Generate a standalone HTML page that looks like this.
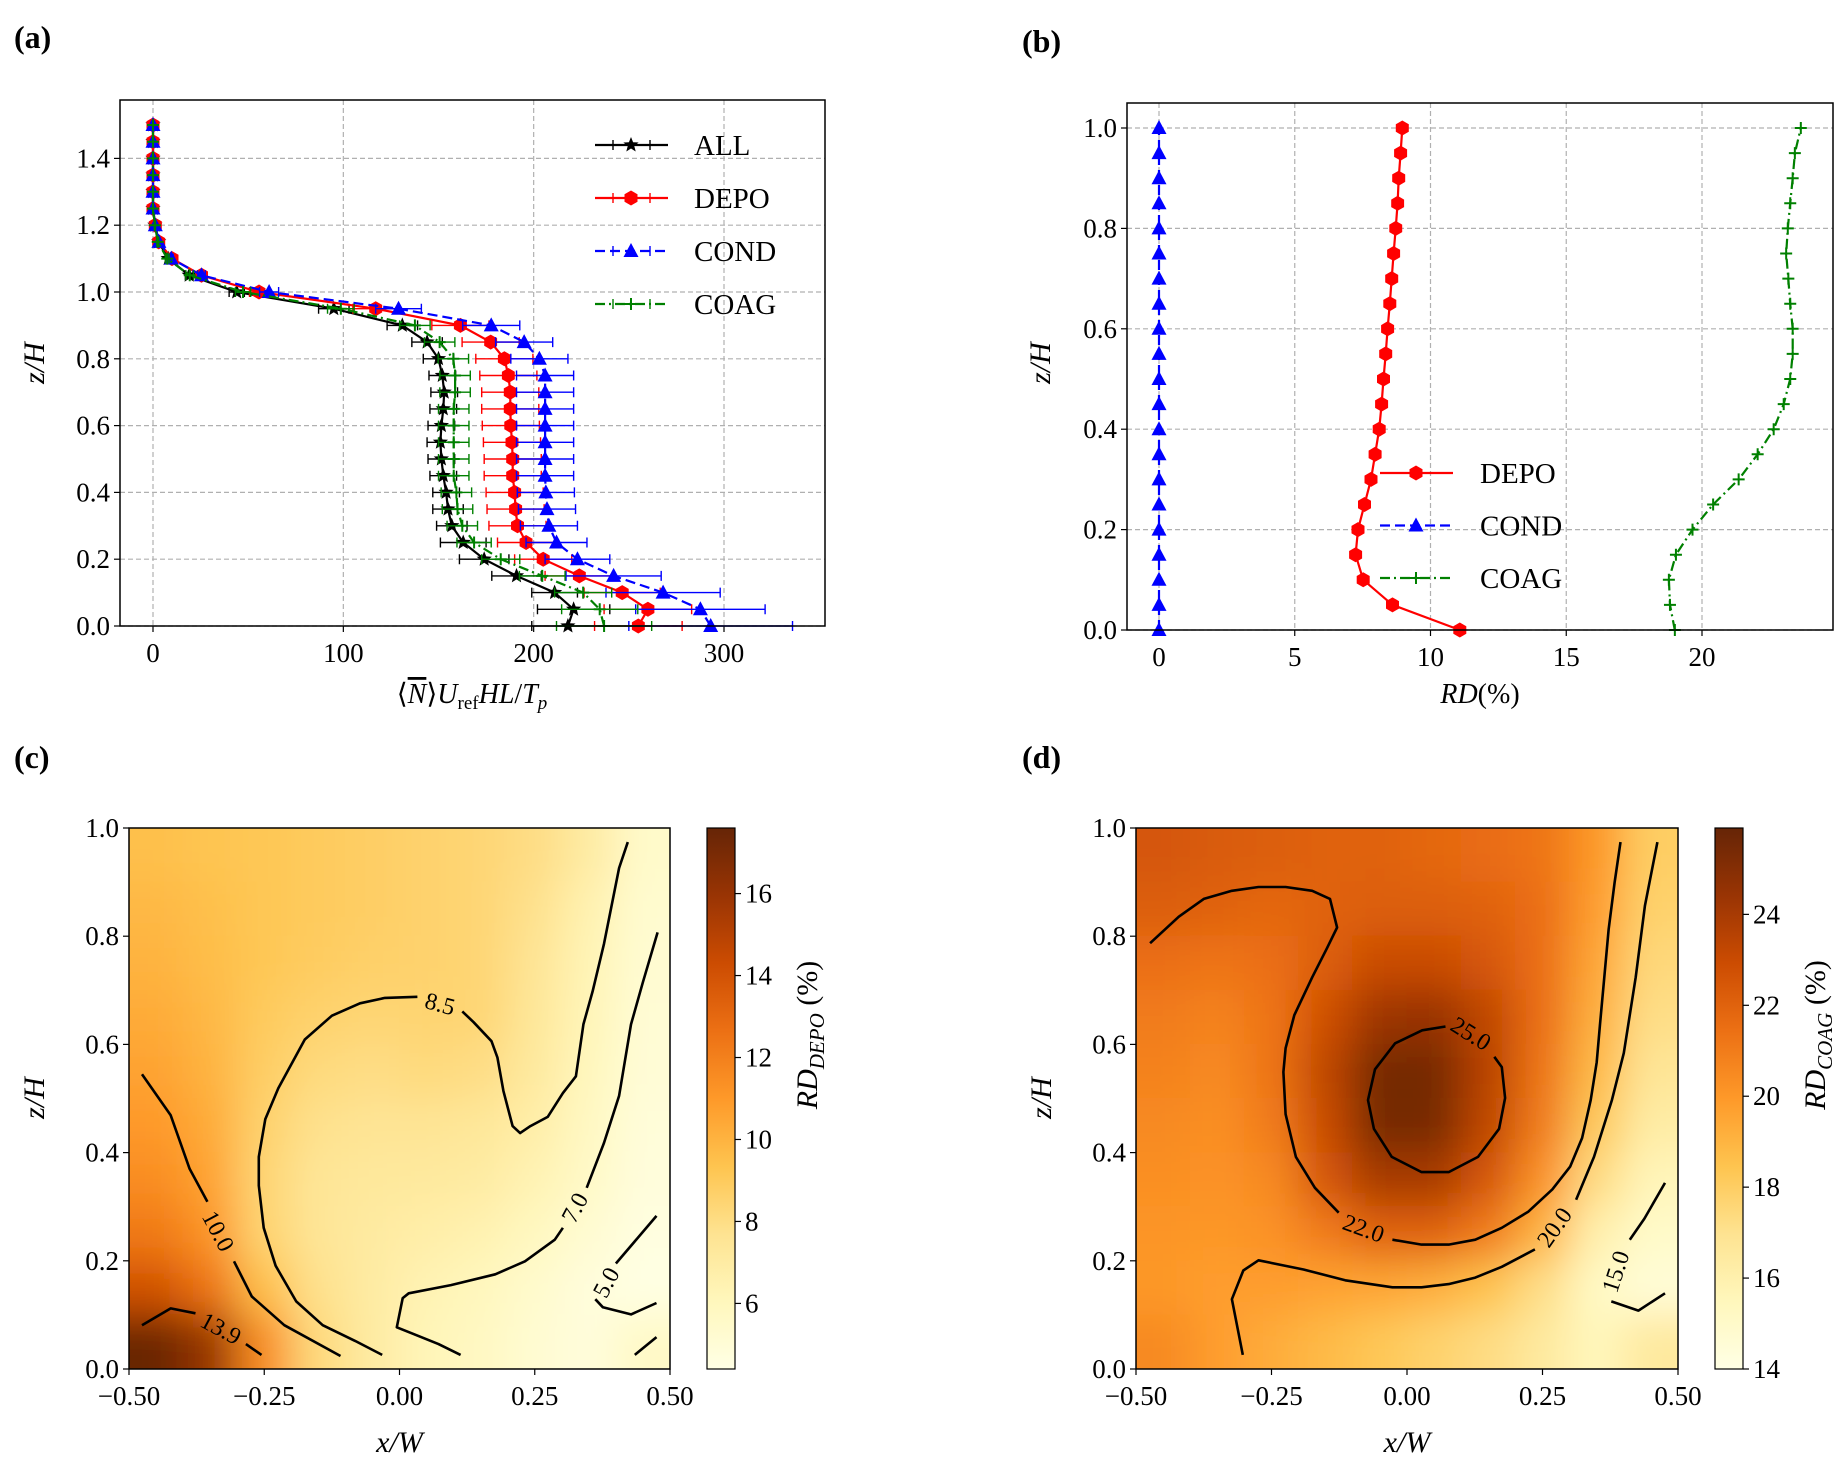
<!DOCTYPE html>
<html><head><meta charset="utf-8"><style>
html,body{margin:0;padding:0;background:#fff;}
svg{display:block;font-family:"Liberation Serif",serif;}
</style></head><body>
<svg id="fig" width="1848" height="1479" viewBox="0 0 1848 1479" xmlns="http://www.w3.org/2000/svg">
<defs>
<filter id="blurC" filterUnits="userSpaceOnUse" x="0" y="700" width="924" height="779"><feGaussianBlur stdDeviation="20"/></filter>
<filter id="blurD" filterUnits="userSpaceOnUse" x="924" y="700" width="924" height="779"><feGaussianBlur stdDeviation="20"/></filter>
<linearGradient id="cmap" x1="0" y1="1" x2="0" y2="0">
<stop offset="0" stop-color="#ffffe5"/><stop offset="0.125" stop-color="#fff7bc"/><stop offset="0.25" stop-color="#fee391"/><stop offset="0.375" stop-color="#fec44f"/><stop offset="0.5" stop-color="#fe9929"/><stop offset="0.625" stop-color="#ec7014"/><stop offset="0.75" stop-color="#cc4c02"/><stop offset="0.875" stop-color="#993404"/><stop offset="1" stop-color="#662506"/>
</linearGradient>
<clipPath id="clipC"><rect x="129" y="828" width="541" height="541"/></clipPath>
<clipPath id="clipD"><rect x="1136" y="828" width="542" height="541"/></clipPath>
</defs>
<g id="root"></g>
</svg>
<script>
// ---------- Panel (a) data ----------
const zA = [0,0.05,0.1,0.15,0.2,0.25,0.3,0.35,0.4,0.45,0.5,0.55,0.6,0.65,0.7,0.75,0.8,0.85,0.9,0.95,1.0,1.05,1.1,1.15,1.2,1.25,1.3,1.35,1.4,1.45,1.5];
const allVals = [218,221,211,191,174,163,157,155,154,152.5,151.5,151,151.5,152.5,153,152,150,144,131,95,44,19,8,3,1,0,0,0,0,0,0];
const allErr = [19,19,12,13,13,12,8,8,7,7,7,7,7,7,7,7,8,8,8,8,4,2,1,0.5,0.3,0,0,0,0,0,0];
const depoVals = [255,260,246.5,224,205,196,191.5,190.5,190,189,189,188.6,188,187.7,187.7,186.7,184.6,177.4,161.5,117,55.7,25.5,10,3,1.2,0,0,0,0,0,0];
const depoErr = [23,23,20,18,15,15,15,15,15,15,15,15,15,15,15,15,15,15,15,12,5,2,1,0.5,0.3,0,0,0,0,0,0];
const condVals = [293,287.6,268,242,223,212,208,207,206.4,206,206,206,206,206,206,206,203,195,177.7,129,61,25.5,9.6,3.1,1.2,0,0,0,0,0,0];
const condErr = [43,34,30,25,17,16,15,15,15,15,15,15,15,15,15,15,15,15,15,12,5,2,1,0.5,0.3,0,0,0,0,0,0];
const coagVals = [237,234.7,226,204.5,182.7,168.7,162.5,160,159.4,158,158,158,158,158,158.7,158.7,157.8,150.6,137.6,98.7,47.3,19.3,7.5,2.5,1,0,0,0,0,0,0];
const coagErr = [25,20,15,12,10,9,8,8,8,8,8,8,8,8,8,8,8,8,8,7,4,2,1,0.5,0.3,0,0,0,0,0,0];
const aXTicks = [0,100,200,300];
const aYTicks = [0,0.2,0.4,0.6,0.8,1.0,1.2,1.4];
// ---------- Panel (b) data ----------
const zB = [0,0.05,0.1,0.15,0.2,0.25,0.3,0.35,0.4,0.45,0.5,0.55,0.6,0.65,0.7,0.75,0.8,0.85,0.9,0.95,1.0];
const rdDepo = [11.08,8.6,7.52,7.24,7.33,7.57,7.81,7.96,8.11,8.2,8.27,8.35,8.42,8.5,8.57,8.64,8.72,8.79,8.83,8.9,8.96];
const rdCond = [0,0,0,0,0,0,0,0,0,0,0,0,0,0,0,0,0,0,0,0,0];
const rdCoag = [19.0,18.82,18.78,19.04,19.65,20.41,21.35,22.05,22.64,23.01,23.25,23.34,23.34,23.25,23.18,23.1,23.16,23.25,23.34,23.42,23.64];
const bXTicks = [0,5,10,15,20];
const bYTicks = [0,0.2,0.4,0.6,0.8,1.0];
// ---------- Panel (c) field (rows z=0.95 -> 0.05, cols x=-0.45 -> 0.45) ----------
const fieldC = [
[9.5,9.3,9.2,9.0,8.8,8.6,8.4,8.0,7.0,5.5],
[9.8,9.5,9.2,9.0,8.8,8.6,8.4,7.8,6.5,5.3],
[10,9.6,9.2,8.9,8.7,8.6,8.4,7.6,6.3,5.2],
[10.3,9.8,9.0,8.6,8.4,8.5,8.4,7.4,6.2,5.1],
[10.6,10.0,8.8,8.2,8.0,8.2,8.0,7.2,6.0,5.0],
[11,10.3,8.6,7.8,7.6,7.6,7.4,6.8,5.8,4.9],
[11.5,10.6,8.4,7.5,7.3,7.2,7.0,6.4,5.6,4.8],
[12.3,11.2,8.5,7.5,7.1,6.8,6.5,5.9,5.2,4.6],
[14,12.5,9.5,7.8,7.0,6.4,6.0,5.4,4.8,4.5],
[17.5,16,11.5,8.2,7.0,6.2,5.8,5.2,4.8,5.6]];
const cRange = [4.4,17.6];
const cBarTicks = [6,8,10,12,14,16];
const contC_10a = [[-0.476,0.545],[-0.423,0.469],[-0.388,0.370],[-0.355,0.309]];
const contC_10b = [[-0.306,0.199],[-0.273,0.134],[-0.213,0.081],[-0.109,0.024]];
const contC_139a = [[-0.476,0.081],[-0.423,0.112],[-0.377,0.103]];
const contC_139b = [[-0.284,0.046],[-0.255,0.026]];
const contC_85a = [[-0.032,0.026],[-0.082,0.052],[-0.142,0.081],[-0.191,0.125],[-0.229,0.191],[-0.251,0.261],[-0.260,0.339],[-0.260,0.392],[-0.248,0.462],[-0.224,0.519],[-0.175,0.609],[-0.125,0.653],[-0.073,0.676],[-0.027,0.686],[0.033,0.688]];
const contC_85b = [[0.116,0.661],[0.137,0.641],[0.170,0.606],[0.181,0.576],[0.192,0.514],[0.209,0.449],[0.223,0.436],[0.242,0.449],[0.274,0.466],[0.302,0.510],[0.326,0.541],[0.340,0.637],[0.357,0.698],[0.378,0.786],[0.406,0.926],[0.422,0.974]];
const contC_7a = [[0.113,0.026],[0.072,0.046],[0.028,0.064],[-0.005,0.077],[0.006,0.131],[0.017,0.140],[0.095,0.155],[0.177,0.175],[0.232,0.199],[0.287,0.239],[0.302,0.261]];
const contC_7b = [[0.346,0.335],[0.378,0.418],[0.406,0.505],[0.428,0.637],[0.450,0.715],[0.477,0.807]];
const contC_5a = [[0.475,0.283],[0.400,0.195]];
const contC_5b = [[0.362,0.129],[0.376,0.114],[0.428,0.101],[0.475,0.122]];
const contC_5c = [[0.435,0.026],[0.475,0.059]];
const labelsC = [["10.0",-0.335,0.255,62],["13.9",-0.33,0.075,28],["8.5",0.075,0.675,15],["7.0",0.324,0.298,-62],["5.0",0.382,0.16,-62]];
// ---------- Panel (d) field ----------
const fieldD = [
[22.5,22.3,22.2,22.0,22.0,21.8,21.6,21.3,20,18],
[22.2,22,21.8,22,22.2,22.2,22,21.5,19.8,17.8],
[21.5,21.3,21.5,22.2,23,23,22.5,21.5,19.5,17.5],
[21,20.8,21.3,22.8,24.3,24.5,23.3,21.5,19.2,17.2],
[20.8,20.5,21.3,23.3,25.5,25.5,23.5,21.3,18.8,16.8],
[20.5,20.3,21,23,25.5,25.4,23.3,21,18.2,16.3],
[20.3,20.2,20.5,22.5,24,24,22.5,20.2,17.3,15.6],
[20.1,20,20.2,21,22,22,21,19,16,15],
[20,19.8,19.8,19.6,19.5,19.2,18.5,17.2,15.2,14.5],
[20.5,19.8,19.3,18.8,18.3,17.8,17.3,16.5,15.5,16.5]];
const dRange = [14,25.9];
const dBarTicks = [14,16,18,20,22,24];
const contD_22a = [[-0.474,0.787],[-0.421,0.836],[-0.375,0.869],[-0.323,0.884],[-0.274,0.891],[-0.224,0.891],[-0.175,0.884],[-0.142,0.869],[-0.129,0.816],[-0.148,0.777],[-0.175,0.724],[-0.208,0.654],[-0.224,0.593],[-0.228,0.549],[-0.224,0.471],[-0.205,0.392],[-0.170,0.335],[-0.126,0.289]];
const contD_22b = [[-0.027,0.239],[0.027,0.230],[0.077,0.230],[0.126,0.239],[0.175,0.261],[0.224,0.291],[0.268,0.332],[0.301,0.374],[0.323,0.427],[0.339,0.497],[0.350,0.567],[0.356,0.637],[0.364,0.724],[0.372,0.812],[0.383,0.899],[0.394,0.974]];
const contD_25 = [[0.071,0.633],[0.028,0.626],[-0.022,0.602],[-0.059,0.554],[-0.072,0.497],[-0.061,0.444],[-0.028,0.392],[0.027,0.364],[0.077,0.364],[0.131,0.392],[0.170,0.444],[0.181,0.501],[0.175,0.558],[0.161,0.577]];
const contD_20a = [[-0.303,0.026],[-0.323,0.129],[-0.302,0.182],[-0.274,0.201],[-0.191,0.184],[-0.114,0.164],[-0.027,0.151],[0.027,0.151],[0.077,0.157],[0.126,0.169],[0.175,0.189],[0.236,0.221]];
const contD_20b = [[0.312,0.313],[0.345,0.392],[0.378,0.497],[0.400,0.584],[0.422,0.724],[0.439,0.856],[0.462,0.974]];
const contD_15a = [[0.476,0.344],[0.438,0.278],[0.411,0.239]];
const contD_15b = [[0.377,0.125],[0.427,0.108],[0.476,0.140]];
const labelsD = [["22.0",-0.08,0.26,20],["25.0",0.118,0.62,32],["20.0",0.272,0.262,-55],["15.0",0.385,0.18,-72]];
const heatXTicks = [-0.5,-0.25,0,0.25,0.5];
const heatYTicks = [0,0.2,0.4,0.6,0.8,1.0];

const NS = "http://www.w3.org/2000/svg";
const root = document.getElementById("root");
function el(tag, attrs, parent, text){
  const e = document.createElementNS(NS, tag);
  for (const k in attrs) e.setAttribute(k, attrs[k]);
  if (text !== undefined) e.textContent = text;
  (parent || root).appendChild(e);
  return e;
}
function lin(d0,d1,r0,r1){ return v => r0 + (v-d0)/(d1-d0)*(r1-r0); }
function fmt(v,d){ const s = Math.abs(v).toFixed(d); return (v<0?"\u2212":"")+s; }
const cmapStops = ["#ffffe5","#fff7bc","#fee391","#fec44f","#fe9929","#ec7014","#cc4c02","#993404","#662506"];
function cmap(t){
  t = Math.max(0,Math.min(1,t));
  const p = t*8, i = Math.min(7,Math.floor(p)), f = p-i;
  const a = cmapStops[i], b = cmapStops[i+1];
  const c = [1,3,5].map(k => Math.round(parseInt(a.substr(k,2),16)*(1-f)+parseInt(b.substr(k,2),16)*f));
  return "rgb("+c.join(",")+")";
}
function pathOf(pts, sx, sy){ return pts.map((p,i)=>(i?"L":"M")+sx(p[0]).toFixed(1)+","+sy(p[1]).toFixed(1)).join(""); }

// panel labels
[["(a)",14,48],["(b)",1022,52],["(c)",14,768],["(d)",1022,768]].forEach(l=>{
  const t = el("text",{x:l[1],y:l[2],"font-size":32,"font-weight":"bold"},root,l[0]);
  
  
});

function gridAndAxes(g, L,T,R,B, sx, sy, xt, yt, xd, yd, grid){
  xt.forEach(v=>{
    const x = sx(v);
    if (grid){ const gl = el("line",{x1:x,x2:x,y1:T,y2:B,stroke:"#b0b0b0","stroke-width":1.2,"stroke-dasharray":"5,3"},g);
        }
    el("line",{x1:x,x2:x,y1:B,y2:B+6,stroke:"#000","stroke-width":1.2},g);
    const t = el("text",{x:x,y:B+36,"font-size":27,"text-anchor":"middle"},g,fmt(v,xd));
     
  });
  yt.forEach(v=>{
    const y = sy(v);
    if (grid){ const gl = el("line",{x1:L,x2:R,y1:y,y2:y,stroke:"#b0b0b0","stroke-width":1.2,"stroke-dasharray":"5,3"},g);
        }
    el("line",{x1:L-6,x2:L,y1:y,y2:y,stroke:"#000","stroke-width":1.2},g);
    const t = el("text",{x:L-10,y:y+9,"font-size":27,"text-anchor":"end"},g,fmt(v,yd));
     
  });
}
function frame(g,L,T,R,B){
  const f = el("rect",{x:L,y:T,width:R-L,height:B-T,fill:"none",stroke:"#000","stroke-width":1.5},g);
   
}
function ylabel(g,x,y,txt){
  const t = el("text",{x:x,y:y,"font-size":30,"font-style":"italic","text-anchor":"middle",transform:"rotate(-90 "+x+" "+y+")"},g,txt);
   
}
function marker(g,type,x,y,color){
  let m;
  if (type==="star"){
    const pts=[]; for(let i=0;i<10;i++){const r=i%2?3.5:8; const a=-Math.PI/2+i*Math.PI/5; pts.push((x+r*Math.cos(a)).toFixed(1)+","+(y+r*Math.sin(a)).toFixed(1));}
    m = el("polygon",{points:pts.join(" "),fill:color},g);
  } else if (type==="hex"){
    const pts=[]; for(let i=0;i<6;i++){const a=Math.PI/6+i*Math.PI/3; pts.push((x+7.5*Math.cos(a)).toFixed(1)+","+(y+7.5*Math.sin(a)).toFixed(1));}
    m = el("polygon",{points:pts.join(" "),fill:color},g);
  } else if (type==="tri"){
    m = el("polygon",{points:`${x},${y-8} ${x-7.5},${y+6} ${x+7.5},${y+6}`,fill:color},g);
  } else {
    m = el("path",{d:`M${x-6},${y}H${x+6}M${x},${y-6}V${y+6}`,stroke:color,"stroke-width":2},g);
  }
   
}
const dashes = {solid:"", dashed:"10,5", dashdot:"10,4,2,4"};

// ---------- Panel (a) ----------
(function(){
  const L=120,T=100,R=825,B=626;
  const sx = lin(0,300,153,724), sy = lin(0,1.4,626,158.4);
  const g = el("g",{});  
  gridAndAxes(g,L,T,R,B,sx,sy,aXTicks,aYTicks,0,1,true);
  const series = [
    ["ALL",allVals,allErr,"#000","solid","star"],
    ["DEPO",depoVals,depoErr,"#ff0000","solid","hex"],
    ["COND",condVals,condErr,"#0000ff","dashed","tri"],
    ["COAG",coagVals,coagErr,"#008000","dashdot","plus"]];
  series.forEach(s=>{
    const sg = el("g",{},g);  
    s[1].forEach((v,i)=>{
      const y=sy(zA[i]), e=s[2][i];
      if (e>0){
        el("path",{d:`M${sx(v-e)},${y}H${sx(v+e)}M${sx(v-e)},${y-5}V${y+5}M${sx(v+e)},${y-5}V${y+5}`,stroke:s[3],"stroke-width":1.4},sg);
      }
    });
    const ln = el("path",{d:pathOf(s[1].map((v,i)=>[v,zA[i]]),sx,sy),fill:"none",stroke:s[3],"stroke-width":2.2,"stroke-dasharray":dashes[s[4]]},sg);
     
    s[1].forEach((v,i)=>marker(sg,s[5],sx(v),sy(zA[i]),s[3]));
  });
  frame(g,L,T,R,B);
  const lg = el("g",{},g);  
  series.forEach((s,i)=>{
    const y = 145+53*i;
    const e = el("g",{},lg);  
    el("line",{x1:595,x2:668,y1:y,y2:y,stroke:s[3],"stroke-width":2.2,"stroke-dasharray":dashes[s[4]]},e);
    el("path",{d:`M${613},${y-5}V${y+5}M${650},${y-5}V${y+5}`,stroke:s[3],"stroke-width":1.4},e);
    marker(e,s[5],631,y,s[3]);
    el("text",{x:694,y:y+10,"font-size":29},e,s[0]);
  });
  const xl = el("text",{x:472,y:703,"font-size":28,"text-anchor":"middle"},g);
  xl.innerHTML = '⟨<tspan font-style="italic" text-decoration="overline">N</tspan>⟩<tspan font-style="italic">U</tspan><tspan font-size="19" dy="6">ref</tspan><tspan dy="-6" font-style="italic">HL</tspan>/<tspan font-style="italic">T</tspan><tspan font-size="19" dy="6" font-style="italic">p</tspan>';
   
  ylabel(g,44,363,"z/H");
})();

// ---------- Panel (b) ----------
(function(){
  const L=1127,T=103,R=1833,B=630;
  const sx = lin(0,20,1159,1702), sy = lin(0,1,630,128);
  const g = el("g",{});  
  gridAndAxes(g,L,T,R,B,sx,sy,bXTicks,bYTicks,0,1,true);
  const series = [["DEPO",rdDepo,"#ff0000","solid","hex"],["COND",rdCond,"#0000ff","dashed","tri"],["COAG",rdCoag,"#008000","dashdot","plus"]];
  series.forEach(s=>{
    const sg = el("g",{},g);  
    const ln = el("path",{d:pathOf(s[1].map((v,i)=>[v,zB[i]]),sx,sy),fill:"none",stroke:s[2],"stroke-width":2.2,"stroke-dasharray":dashes[s[3]]},sg);
     
    s[1].forEach((v,i)=>marker(sg,s[4],sx(v),sy(zB[i]),s[2]));
  });
  frame(g,L,T,R,B);
  const lg = el("g",{},g);  
  series.forEach((s,i)=>{
    const y = 473+52.5*i;
    const e = el("g",{},lg);  
    el("line",{x1:1380,x2:1453,y1:y,y2:y,stroke:s[2],"stroke-width":2.2,"stroke-dasharray":dashes[s[3]]},e);
    marker(e,s[4],1416,y,s[2]);
    el("text",{x:1480,y:y+10,"font-size":29},e,s[0]);
  });
  const xl = el("text",{x:1480,y:703,"font-size":28,"text-anchor":"middle"},g);
  xl.innerHTML = '<tspan font-style="italic">RD</tspan>(%)';
   
  ylabel(g,1050,363,"z/H");
})();

// ---------- Heatmaps ----------
function heatmap(name,L,R,field,range,barTicks,contours,labels,clip,filt,cbL,sub){
  const T=828,B=1369, PAD=90;
  const sx = lin(-0.5,0.5,L,R), sy = lin(0,1,B,T);
  const g = el("g",{});  
  const hg = el("g",{"clip-path":"url(#"+clip+")"},g);
  const inner = el("g",{filter:"url(#"+filt+")"},hg);
   
  const nr = field.length, nc = field[0].length;
  field.forEach((row,ri)=>row.forEach((v,ci)=>{
    let x0 = sx(-0.5+ci/nc), x1 = sx(-0.5+(ci+1)/nc);
    let y0 = sy(1-ri/nr), y1 = sy(1-(ri+1)/nr);
    if (ci===0) x0 -= PAD;
    if (ci===nc-1) x1 += PAD;
    if (ri===0) y0 -= PAD;
    if (ri===nr-1) y1 += PAD;
    const c = el("rect",{x:x0-0.5,y:y0-0.5,width:x1-x0+1,height:y1-y0+1,fill:cmap((v-range[0])/(range[1]-range[0]))},inner);
    
    
  }));
  const cg = el("g",{"clip-path":"url(#"+clip+")"},g);
  contours.forEach(pts=>{
    const p = el("path",{d:pathOf(pts,sx,sy),fill:"none",stroke:"#000","stroke-width":2.6,"stroke-linejoin":"round"},cg);
     
  });
  labels.forEach(l=>{
    const x=sx(l[1]), y=sy(l[2]);
    const t = el("text",{x:x,y:y+8,"font-size":24,"text-anchor":"middle",transform:`rotate(${l[3]} ${x} ${y})`},g,l[0]);
     
  });
  gridAndAxes(g,L,T,R,B,sx,sy,heatXTicks,heatYTicks,2,1,false);
  frame(g,L,T,R,B);
  const cb = el("g",{},g);  
  el("rect",{x:cbL,y:T,width:28,height:B-T,fill:"url(#cmap)",stroke:"#000","stroke-width":1.2},cb);
  const cy = lin(range[0],range[1],B,T);
  barTicks.forEach(v=>{
    el("line",{x1:cbL+28,x2:cbL+34,y1:cy(v),y2:cy(v),stroke:"#000","stroke-width":1.2},cb);
    const t = el("text",{x:cbL+38,y:cy(v)+9,"font-size":27},cb,String(v));
     
  });
  const lx = cbL+110, ly = 1035;
  const ct = el("text",{x:lx,y:ly,"font-size":30,"text-anchor":"middle",transform:`rotate(-90 ${lx} ${ly})`},cb);
  ct.innerHTML = '<tspan font-style="italic">RD</tspan><tspan font-style="italic" font-size="21" dy="7">'+sub+'</tspan><tspan dy="-7"> (%)</tspan>';
   
  const xl = el("text",{x:(L+R)/2,y:1452,"font-size":30,"font-style":"italic","text-anchor":"middle"},g,"x/W");
   
  ylabel(g,L-85,1098,"z/H");
}
heatmap("panel-c-rd-depo-map",129,670,fieldC,cRange,cBarTicks,[contC_10a,contC_10b,contC_139a,contC_139b,contC_85a,contC_85b,contC_7a,contC_7b,contC_5a,contC_5b,contC_5c],labelsC,"clipC","blurC",707,"DEPO");
heatmap("panel-d-rd-coag-map",1136,1678,fieldD,dRange,dBarTicks,[contD_22a,contD_22b,contD_25,contD_20a,contD_20b,contD_15a,contD_15b],labelsD,"clipD","blurD",1715,"COAG");
</script>
</body></html>
